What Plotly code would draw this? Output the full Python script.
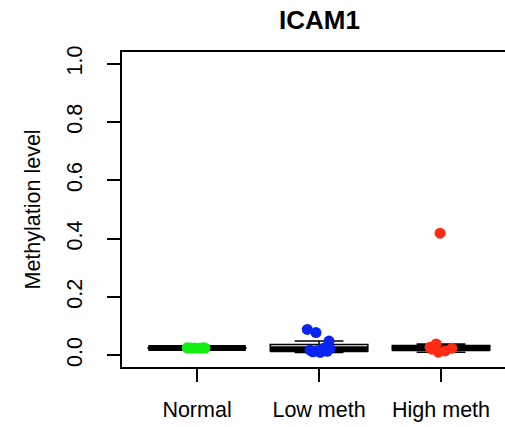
import numpy as np
import plotly.graph_objects as go

# Groups and methylation values (beta values) per sample
groups = ["Normal", "Low meth", "High meth"]
normal_vals = [0.026, 0.025, 0.025, 0.024, 0.026, 0.025]
low_vals = [0.089, 0.078, 0.049, 0.026, 0.023, 0.021, 0.018, 0.016, 0.014, 0.012, 0.010]
high_vals = [0.419, 0.039, 0.028, 0.024, 0.021, 0.015, 0.011]

# Horizontal jitter of each sample around its group centre (data units)
normal_jit = [-0.08, -0.05, -0.02, 0.02, 0.045, 0.065]
low_jit = [-0.096, -0.025, 0.082, 0.05, 0.09, 0.022, -0.074, -0.019, 0.066, -0.05, 0.01]
high_jit = [-0.008, -0.04, -0.09, 0.088, -0.076, 0.033, -0.022]

point_colors = ["#12EE12", "#0A24F2", "#FF2B14"]
y_ticks = [0.0, 0.2, 0.4, 0.6, 0.8, 1.0]
y_ticktext = ["0.0", "0.2", "0.4", "0.6", "0.8", "1.0"]

FONT = "Liberation Sans, Arial, Helvetica, sans-serif"
W, H = 505, 427
ML, MR, MT, MB = 122, 0, 52, 60
PX_PER_UNIT = 122.0
x_lo = 0.385
x_hi = x_lo + (W - ML - MR) / PX_PER_UNIT


def tukey_stats(values):
    """Five-number summary with Tukey hinges and 1.5*IQR whiskers."""
    v = np.sort(np.asarray(values, dtype=float))
    n = len(v)
    n4 = np.floor((n + 3) / 2) / 2
    d = np.array([1, n4, (n + 1) / 2, n + 1 - n4, n]) - 1
    five = 0.5 * (v[np.floor(d).astype(int)] + v[np.ceil(d).astype(int)])
    q1, med, q3 = five[1], five[2], five[3]
    iqr = q3 - q1
    lo = v[v >= q1 - 1.5 * iqr].min()
    hi = v[v <= q3 + 1.5 * iqr].max()
    return q1, med, q3, lo, hi


fig = go.Figure()

all_vals = [normal_vals, low_vals, high_vals]
all_jit = [normal_jit, low_jit, high_jit]

for i, vals in enumerate(all_vals):
    pos = i + 1
    q1, med, q3, lo, hi = tukey_stats(vals)
    fig.add_trace(go.Box(
        x=[pos], q1=[q1], median=[med], q3=[q3],
        lowerfence=[lo], upperfence=[hi],
        width=0.8, whiskerwidth=0.5,
        fillcolor="white",
        line=dict(color="black", width=1.5),
        boxpoints=False, hoverinfo="skip", showlegend=False,
    ))
    # heavy median bar
    fig.add_trace(go.Scatter(
        x=[pos - 0.4, pos + 0.4], y=[med, med], mode="lines",
        line=dict(color="black", width=6),
        hoverinfo="skip", showlegend=False,
    ))

for i, (vals, jit) in enumerate(zip(all_vals, all_jit)):
    pos = i + 1
    fig.add_trace(go.Scatter(
        x=[pos + j for j in jit], y=vals, mode="markers",
        marker=dict(color=point_colors[i], size=11, line=dict(width=0)),
        showlegend=False,
    ))

fig.update_layout(
    width=W, height=H,
    margin=dict(l=ML, r=MR, t=MT, b=MB, pad=0),
    paper_bgcolor="white", plot_bgcolor="white",
    font=dict(family=FONT, size=21.5, color="black"),
    showlegend=False,
    title=dict(
        text="<b>ICAM1</b>",
        font=dict(family=FONT, size=26, color="black"),
        x=319.5 / W, xanchor="center", xref="container",
        y=1 - 20.0 / H, yanchor="middle",
    ),
    xaxis=dict(
        range=[x_lo, x_hi],
        tickmode="array", tickvals=[1, 2, 3], ticktext=groups,
        ticks="outside", ticklen=13, tickwidth=1.5, tickcolor="black",
        showline=True, linecolor="black", linewidth=1.5, mirror=True,
        showgrid=False, zeroline=False,
        ticklabelstandoff=9,
        tickfont=dict(family=FONT, size=21.5, color="black"),
    ),
    yaxis=dict(
        range=[-0.04, 1.04],
        tickmode="array", tickvals=y_ticks, ticktext=y_ticktext,
        tickangle=-90,
        ticks="outside", ticklen=13, tickwidth=1.5, tickcolor="black",
        showline=True, linecolor="black", linewidth=1.5, mirror=False,
        showgrid=False, zeroline=False,
        ticklabelstandoff=17,
        tickfont=dict(family=FONT, size=21.5, color="black"),
    ),
    annotations=[dict(
        text="Methylation level", textangle=-90,
        xref="paper", yref="paper",
        x=(32 - ML) / (W - ML - MR), y=0.5,
        xanchor="center", yanchor="middle", showarrow=False,
        font=dict(family=FONT, size=21.5, color="black"),
    )],
)

fig.write_html("out.html")
